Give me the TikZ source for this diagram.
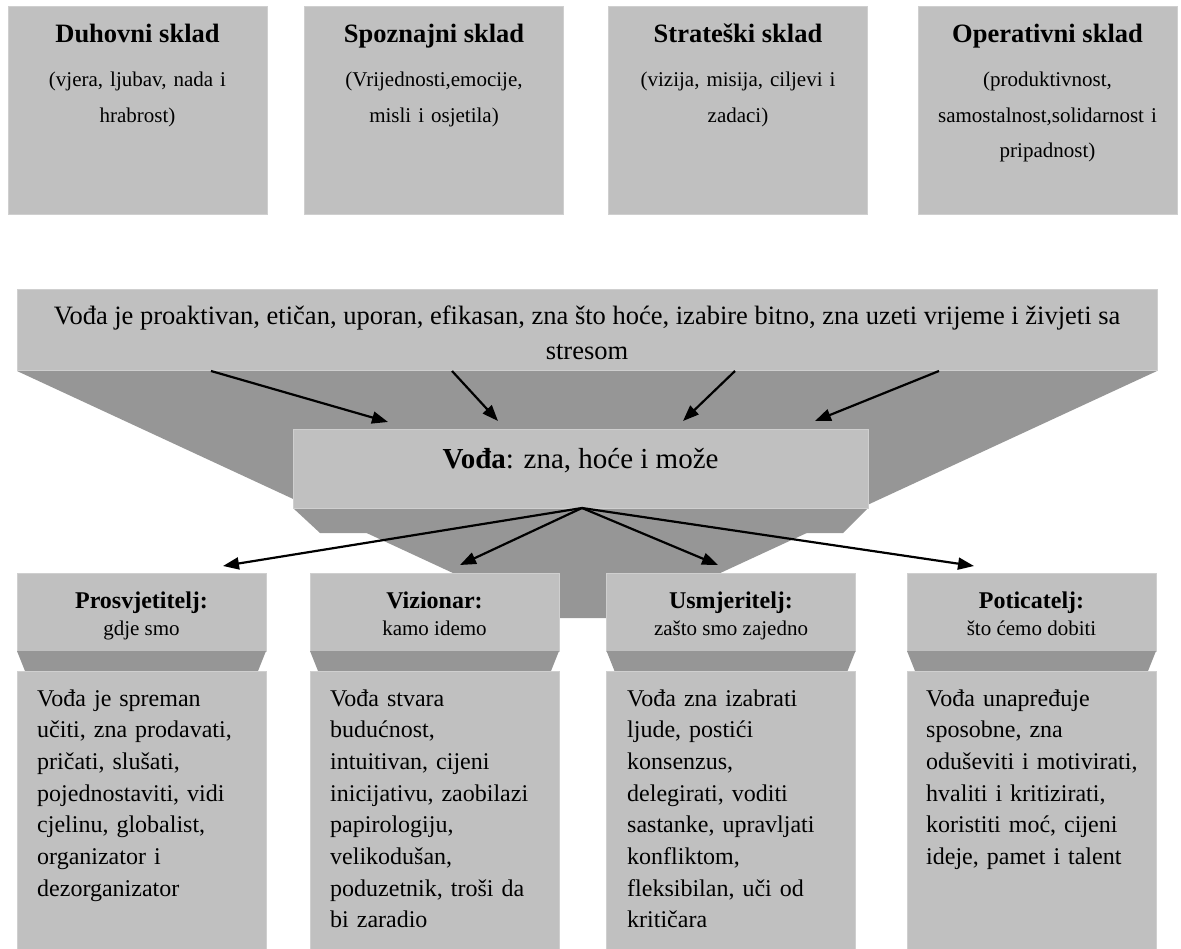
\documentclass[tikz,border=0pt]{standalone}
\usepackage{fontspec}
\setmainfont{Liberation Serif}
\usetikzlibrary{arrows.meta}
\definecolor{lg}{HTML}{C0C0C0}
\definecolor{dg}{HTML}{969696}
\definecolor{edgec}{HTML}{CFCFCF}
\newcommand{\ftitle}{\fontsize{26.5}{35.5}\selectfont\bfseries}
\newcommand{\fsub}{\fontsize{21}{35.5}\selectfont}
\newcommand{\fbig}{\fontsize{26.5}{35}\selectfont}
\newcommand{\fmid}{\fontsize{29}{35}\selectfont}
\newcommand{\ftab}{\fontsize{24}{27}\selectfont\bfseries}
\newcommand{\ftabsub}{\fontsize{21}{27}\selectfont}
\newcommand{\fbody}{\fontsize{24}{31.7}\selectfont}
\begin{document}
\begin{tikzpicture}[x=1pt,y=-1pt,
  box/.style={fill=lg, draw=edgec, line width=1pt, anchor=north west, inner sep=0pt, outer sep=0pt},
  shadow/.style={fill=dg},
  ttl/.style={anchor=base, inner sep=0pt, font=\ftitle},
  sub/.style={anchor=base, inner sep=0pt, align=center, text width=258pt, font=\fsub},
  tabt/.style={anchor=base, inner sep=0pt, font=\ftab},
  tabs/.style={anchor=base, inner sep=0pt, font=\ftabsub},
  body/.style={anchor=base west, inner sep=0pt, align=left, text width=240pt, font=\fbody},
  arr/.style={line width=2.2pt, -{Triangle[length=16pt,width=12pt]}}]
\useasboundingbox (0,0) rectangle (1181,949);

% ---- top row ----
\node[box, minimum width=259pt, minimum height=208pt] (b1) at (8,7) {};
\node[box, minimum width=259pt, minimum height=208pt] (b2) at (304.5,7) {};
\node[box, minimum width=259pt, minimum height=208pt] (b3) at (608.5,7) {};
\node[box, minimum width=259pt, minimum height=208pt] (b4) at (918,7) {};

\node[ttl] (b1t) at (137.5,43) {Duhovni sklad};
\node[sub] (b1s) at (137.5,87) {(vjera, ljubav, nada i\\hrabrost)};
\node[ttl] (b2t) at (434,43) {Spoznajni sklad};
\node[sub] (b2s) at (434,87) {(Vrijednosti,emocije,\\misli i osjetila)};
\node[ttl] (b3t) at (738,43) {Strateški sklad};
\node[sub] (b3s) at (738,87) {(vizija, misija, ciljevi i\\zadaci)};
\node[ttl] (b4t) at (1047.5,43) {Operativni sklad};
\node[sub] (b4s) at (1047.5,87) {(produktivnost,\\samostalnost,solidarnost i\\pripadnost)};

% ---- funnel ----
\fill[shadow] (17,371) -- (1157,371) -- (623,618) -- (550,618) -- cycle;
\node[box, minimum width=1140pt, minimum height=81pt] (wide) at (17,290) {};
\node[anchor=base, inner sep=0pt, font=\fbig] (wide1) at (587,325) {Vođa je proaktivan, etičan, uporan, efikasan, zna što hoće, izabire bitno, zna uzeti vrijeme i živjeti sa};
\node[anchor=base, inner sep=0pt, font=\fbig] (wide2) at (587,360) {stresom};

\fill[shadow] (293,508) -- (868,508) -- (843,533) -- (320,533) -- cycle;
\node[box, minimum width=575pt, minimum height=78pt] (mid) at (293,430) {};
\node[anchor=base, inner sep=0pt, font=\fmid] (midt) at (580.5,468) {\textbf{Vođa}: zna, hoće i može};

% ---- lower columns ----
\foreach \L/\n in {17/p, 310/v, 606.5/u, 907/c}{
  \node[box, minimum width=249pt, minimum height=78pt] (\n tab) at (\L,573) {};
  \fill[shadow] (\L,651) -- (\L+249,651) -- (\L+241,671) -- (\L+8,671) -- cycle;
  \node[box, minimum width=249pt, minimum height=300pt] (\n body) at (\L,671) {};
}

\node[tabt] (pt) at (141.5,608) {Prosvjetitelj:};
\node[tabs] (ps) at (141.5,635) {gdje smo};
\node[tabt] (vt) at (434.5,608) {Vizionar:};
\node[tabs] (vs) at (434.5,635) {kamo idemo};
\node[tabt] (ut) at (731,608) {Usmjeritelj:};
\node[tabs] (us) at (731,635) {zašto smo zajedno};
\node[tabt] (ct) at (1031.5,608) {Poticatelj:};
\node[tabs] (cs) at (1031.5,635) {što ćemo dobiti};

\node[body] (ptx) at (37,706) {Vođa je spreman\\učiti, zna prodavati,\\pričati, slušati,\\pojednostaviti, vidi\\cjelinu, globalist,\\organizator i\\dezorganizator};
\node[body] (vtx) at (330,706) {Vođa stvara\\budućnost,\\intuitivan, cijeni\\inicijativu, zaobilazi\\papirologiju,\\velikodušan,\\poduzetnik, troši da\\bi zaradio};
\node[body] (utx) at (627,706) {Vođa zna izabrati\\ljude, postići\\konsenzus,\\delegirati, voditi\\sastanke, upravljati\\konfliktom,\\fleksibilan, uči od\\kritičara};
\node[body] (ctx) at (926,706) {Vođa unapređuje\\sposobne, zna\\oduševiti i motivirati,\\hvaliti i kritizirati,\\koristiti moć, cijeni\\ideje, pamet i talent};

% ---- arrows ----
\coordinate (s1) at (211,371);
\coordinate (s2) at (452,371);
\coordinate (s3) at (735,371);
\coordinate (s4) at (939,371);
\coordinate (e1) at (388,422);
\coordinate (e2) at (498,421);
\coordinate (e3) at (683,421);
\coordinate (e4) at (815,421);
\draw[arr] (s1) -- (e1);
\draw[arr] (s2) -- (e2);
\draw[arr] (s3) -- (e3);
\draw[arr] (s4) -- (e4);

\coordinate (o) at (582,508);
\coordinate (f1) at (223,566);
\coordinate (f2) at (460,565);
\coordinate (f3) at (718,565);
\coordinate (f4) at (974,566);
\draw[arr] (o) -- (f1);
\draw[arr] (o) -- (f2);
\draw[arr] (o) -- (f3);
\draw[arr] (o) -- (f4);
\end{tikzpicture}
\end{document}
